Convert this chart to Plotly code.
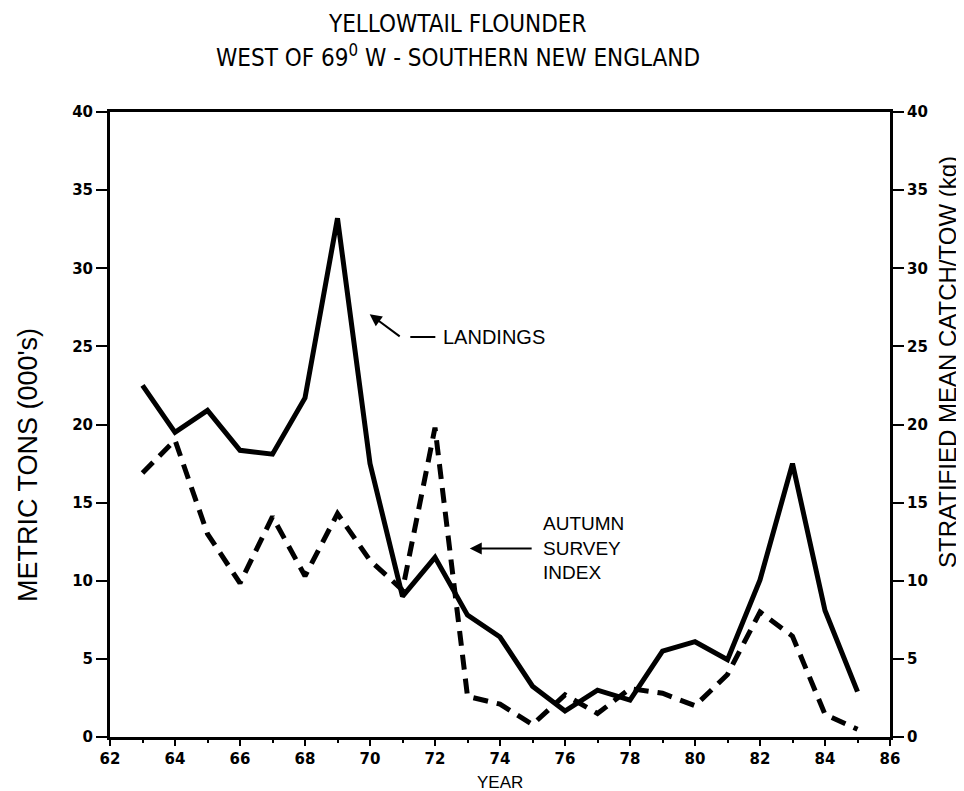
import plotly.graph_objects as go

years = list(range(63, 86))
landings = [22.5, 19.5, 20.9, 18.35, 18.1, 21.7, 33.2, 17.5, 9.0, 11.5, 7.8, 6.4,
            3.25, 1.66, 3.0, 2.36, 5.5, 6.1, 4.95, 10.05, 17.5, 8.1, 2.9]
survey = [16.9, 19.0, 13.0, 9.85, 14.1, 10.3, 14.3, 11.3, 9.4, 19.8, 2.6, 2.1,
          0.8, 2.7, 1.5, 3.1, 2.8, 2.0, 4.0, 8.0, 6.45, 1.45, 0.5]
x_ticks = list(range(62, 87, 2))
y_ticks = list(range(0, 41, 5))

W, H = 964, 791
ML, MR, MT, MB = 102, 82, 104, 62
PH = H - MT - MB
BOTTOM = H - MB


def py(px):
    # paper y for a pixel row
    return (BOTTOM - px) / PH


FONT = "Liberation Sans, Arial, sans-serif"
TICKFONT = dict(family="DejaVu Sans, sans-serif", size=15, color="black", weight="bold")
TITLEFONT = dict(family="Liberation Sans Narrow, Arial Narrow, DejaVu Sans Condensed, Liberation Sans, sans-serif",
                 size=24, color="black")

fig = go.Figure()
fig.add_trace(go.Scatter(x=years, y=landings, mode="lines",
                         line=dict(color="black", width=5), yaxis="y", showlegend=False))
fig.add_trace(go.Scatter(x=years, y=survey, mode="lines",
                         line=dict(color="black", width=5, dash="15px,9px"), yaxis="y2", showlegend=False))

axis_common = dict(showgrid=False, zeroline=False, showline=True, linecolor="black", linewidth=3,
                   ticks="outside", tickcolor="black", tickwidth=2, tickfont=TICKFONT)

fig.update_layout(
    width=W, height=H,
    margin=dict(l=ML, r=MR, t=MT, b=MB),
    paper_bgcolor="white", plot_bgcolor="white",
    font=dict(family=FONT, color="black"),
    xaxis=dict(range=[62, 86], tickvals=x_ticks, ticklen=6, mirror=True,
               minor=dict(dtick=1, ticklen=3, ticks="outside", tickcolor="black", tickwidth=2),
               **axis_common),
    yaxis=dict(range=[0, 40], tickvals=y_ticks, ticklen=11, **axis_common),
    yaxis2=dict(range=[0, 40], tickvals=y_ticks, ticklen=11, overlaying="y", side="right", **axis_common),
)

annotations = [
    dict(text="YELLOWTAIL FLOUNDER", xref="paper", yref="paper", x=0.446, y=py(16),
         xanchor="center", yanchor="middle", showarrow=False, font=TITLEFONT),
    dict(text="WEST OF 69<sup>0</sup> W - SOUTHERN NEW ENGLAND", xref="paper", yref="paper",
         x=0.446, y=py(48), xanchor="center", yanchor="middle", showarrow=False, font=TITLEFONT),
    dict(text="METRIC TONS (000's)", xref="paper", yref="paper", x=-0.105, y=py(457),
         xanchor="center", yanchor="middle", textangle=-90, showarrow=False, font=dict(size=27)),
    dict(text="STRATIFIED MEAN CATCH/TOW (kg)", xref="paper", yref="paper", x=1.073, y=py(354),
         xanchor="center", yanchor="middle", textangle=-90, showarrow=False, font=dict(size=24)),
    dict(text="YEAR", xref="paper", yref="paper", x=0.5, y=py(786), xanchor="center",
         yanchor="bottom", showarrow=False, font=dict(size=17)),
    # Landings arrow
    dict(x=69.99, y=27.06, ax=70.96, ay=25.57, xref="x", yref="y", axref="x", ayref="y",
         text="", showarrow=True, arrowhead=2, arrowsize=1.2, arrowwidth=2, arrowcolor="black"),
    dict(x=72.18, y=25.6, xref="x", yref="y", text="LANDINGS", showarrow=False,
         xanchor="left", font=dict(size=20)),
    # Autumn survey arrow
    dict(x=73.07, y=12.07, ax=75.02, ay=12.07, xref="x", yref="y", axref="x", ayref="y",
         text="", showarrow=True, arrowhead=2, arrowsize=1.2, arrowwidth=2, arrowcolor="black"),
    dict(x=75.26, y=12.1, xref="x", yref="y", text="AUTUMN<br>SURVEY<br>INDEX", showarrow=False,
         xanchor="left", align="left", font=dict(size=19)),
]
fig.update_layout(annotations=annotations,
                  shapes=[dict(type="line", xref="x", yref="y", x0=71.24, x1=72.01, y0=25.6, y1=25.6,
                               line=dict(color="black", width=2))])

fig.write_html("out.html")
